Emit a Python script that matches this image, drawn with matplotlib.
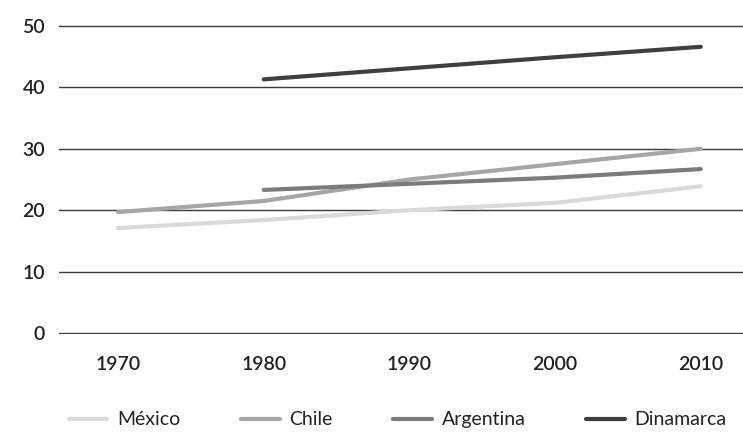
import numpy as np
import matplotlib
matplotlib.use("Agg")
import matplotlib.pyplot as plt

years = [1970, 1980, 1990, 2000, 2010]
mexico = [17.1, 18.4, 20.0, 21.2, 23.9]
chile = [19.7, 21.5, 25.0, 27.5, 30.0]
argentina = [np.nan, 23.3, 24.3, 25.3, 26.7]
dinamarca = [np.nan, 41.3, 43.1, 44.9, 46.6]

series = [
    ("México", mexico, "#d9d9d9"),
    ("Chile", chile, "#a6a6a6"),
    ("Argentina", argentina, "#7b7b7b"),
    ("Dinamarca", dinamarca, "#3f3f3f"),
]

plt.rcParams["font.family"] = ["Lato", "DejaVu Sans"]

fig = plt.figure(figsize=(7.43, 4.33), dpi=100)
ax = fig.add_axes([59 / 743, 1 - 334 / 433, 684 / 743, 309 / 433])

for name, vals, col in series:
    ax.plot(years, vals, color=col, lw=3.0, solid_capstyle="round", label=name)

ax.set_xlim(1965.95, 2012.9)
ax.set_ylim(-0.15, 50.15)
ax.set_yticks(range(0, 51, 10))
ax.set_xticks(years)
ax.yaxis.grid(True, color="#3a3a3a", lw=1.0)
ax.set_axisbelow(True)
for s in ax.spines.values():
    s.set_visible(False)
ax.tick_params(axis="y", length=0, pad=10, labelsize=14, labelcolor="#222222")
ax.tick_params(axis="x", length=0, pad=16, labelsize=14, labelcolor="#222222")
for t in ax.get_xticklabels() + ax.get_yticklabels():
    t.set_fontweight("semibold")

fig.legend(loc="lower center", bbox_to_anchor=(0.535, -0.03), ncol=4, frameon=False,
           fontsize=14, handlelength=2.0, handletextpad=0.5, columnspacing=3.1,
           labelcolor="#222222")

fig.savefig("out.png", dpi=100)
